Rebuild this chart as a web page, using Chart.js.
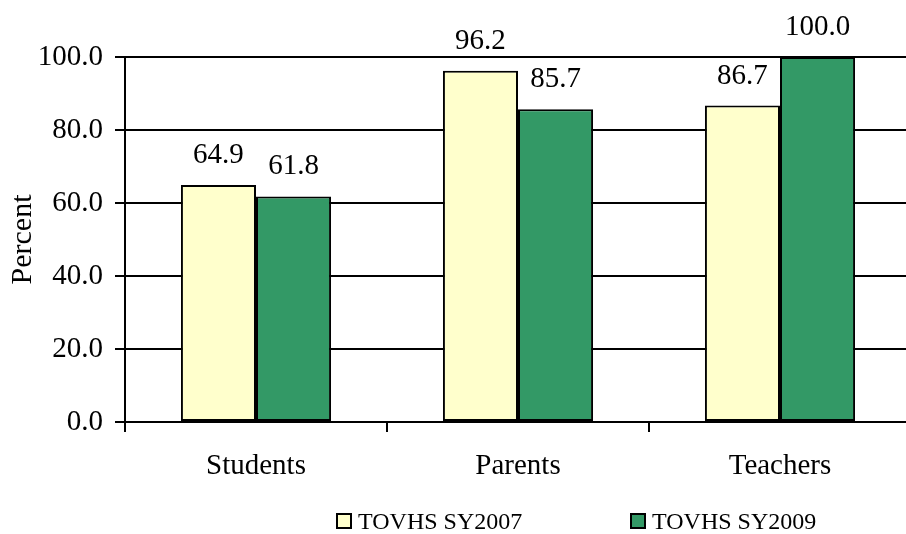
<!DOCTYPE html>
<html>
<head>
<meta charset="utf-8">
<script src="https://cdn.jsdelivr.net/npm/chart.js@4"></script>
<style>
html,body{margin:0;padding:0;background:#fff;overflow:hidden;width:906px;height:534px;}
#wrap{position:absolute;left:0;top:0;width:912px;height:534px;}
</style>
</head>
<body>
<div id="wrap"><canvas id="c" width="912" height="534"></canvas></div>
<script>
const categories = ["Students", "Parents", "Teachers"];
const seriesNames = ["TOVHS SY2007", "TOVHS SY2009"];
const sy2007 = [64.9, 96.2, 86.7];
const sy2009 = [61.8, 85.7, 100.0];
const yTicks = [0, 20, 40, 60, 80, 100];
const colors = ["#FFFFCC", "#339966"];

const FONT = "'Liberation Serif', 'Times New Roman', serif";

const valueLabels = {
  id: 'valueLabels',
  afterDatasetsDraw(chart) {
    const ctx = chart.ctx;
    ctx.save();
    ctx.fillStyle = '#000';
    ctx.font = '29px ' + FONT;
    ctx.textAlign = 'center';
    ctx.textBaseline = 'alphabetic';
    chart.data.datasets.forEach((ds, i) => {
      chart.getDatasetMeta(i).data.forEach((bar, j) => {
        ctx.fillText(ds.data[j].toFixed(1), bar.x, bar.y - 22);
      });
    });
    ctx.restore();
  }
};

const customLegend = {
  id: 'customLegend',
  afterDraw(chart) {
    const ctx = chart.ctx;
    const starts = [337, 631];
    ctx.save();
    ctx.font = '24px ' + FONT;
    ctx.textBaseline = 'alphabetic';
    ctx.textAlign = 'left';
    chart.data.datasets.forEach((ds, i) => {
      const x = starts[i];
      ctx.fillStyle = ds.backgroundColor;
      ctx.fillRect(x, 514, 14, 14);
      ctx.lineWidth = 2;
      ctx.strokeStyle = '#000';
      ctx.strokeRect(x, 514, 14, 14);
      ctx.fillStyle = '#000';
      ctx.fillText(ds.label, x + 21, 529);
    });
    ctx.restore();
  }
};

new Chart(document.getElementById('c'), {
  type: 'bar',
  data: {
    labels: categories,
    datasets: [
      { label: seriesNames[0], data: sy2007, backgroundColor: colors[0], borderColor: '#000', borderWidth: 2, borderSkipped: false },
      { label: seriesNames[1], data: sy2009, backgroundColor: colors[1], borderColor: '#000', borderWidth: 2, borderSkipped: false }
    ]
  },
  options: {
    responsive: false,
    animation: false,
    devicePixelRatio: 1,
    layout: { padding: { top: 57, right: 1, left: 0, bottom: 0 } },
    datasets: { bar: { barPercentage: 1.0, categoryPercentage: 0.573 } },
    plugins: { legend: { display: false }, tooltip: { enabled: false } },
    scales: {
      x: {
        afterFit(s) { s.height = 112; },
        grid: { display: true, drawOnChartArea: false, drawTicks: true, tickLength: 10, color: '#000', lineWidth: 2, offset: true },
        border: { display: true, color: '#000', width: 2 },
        ticks: { color: '#000', font: { family: FONT, size: 29 }, padding: 17 }
      },
      y: {
        min: 0, max: 100,
        afterFit(s) { s.width = 125; },
        afterBuildTicks(s) { s.ticks = yTicks.map(v => ({ value: v })); },
        grid: { color: '#000', lineWidth: 2, tickLength: 10, drawTicks: true },
        border: { display: true, color: '#000', width: 2 },
        ticks: { color: '#000', font: { family: FONT, size: 29 }, padding: 12, callback: v => Number(v).toFixed(1) },
        title: { display: true, text: 'Percent', color: '#000', font: { family: FONT, size: 30 }, padding: { top: 5, bottom: 0 } }
      }
    }
  },
  plugins: [valueLabels, customLegend]
});
</script>
</body>
</html>
